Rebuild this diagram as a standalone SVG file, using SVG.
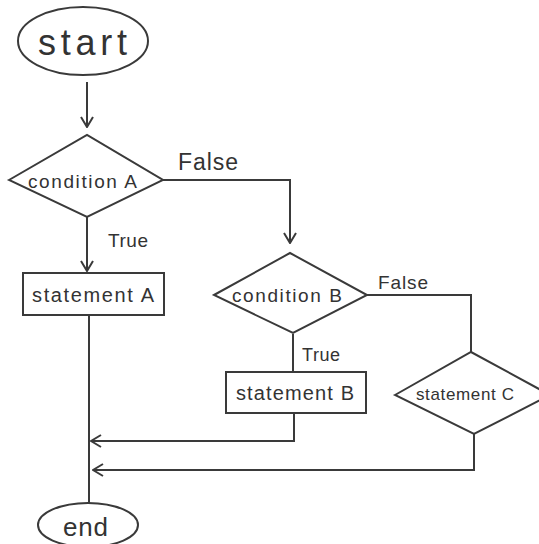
<svg xmlns="http://www.w3.org/2000/svg" width="539" height="544" viewBox="0 0 539 544">
<style>
.s{fill:none;stroke:#3a3a3a;stroke-width:2}
.n{fill:#fff;stroke:#3a3a3a;stroke-width:2}
text{font-family:"Liberation Sans","DejaVu Sans",sans-serif;fill:#333}
</style>
<defs>
<marker id="ah" viewBox="0 0 12 14" refX="11" refY="7" markerWidth="12" markerHeight="14" markerUnits="userSpaceOnUse" orient="auto">
<path d="M1,1 L11,7 L1,13" fill="none" stroke="#3a3a3a" stroke-width="2"/>
</marker>
</defs>
<rect width="539" height="544" fill="#fff"/>
<g id="connectors">
<path class="s" d="M87,82 V127" marker-end="url(#ah)"/>
<path class="s" d="M87,217 V271" marker-end="url(#ah)"/>
<path class="s" d="M163,180 H290 V243" marker-end="url(#ah)"/>
<path class="s" d="M293,334 V372"/>
<path class="s" d="M367,295 H471 V352"/>
<path class="s" d="M89,315 V503"/>
<path class="s" d="M294,413 V441 H91" marker-end="url(#ah)"/>
<path class="s" d="M474,434 V470 H93" marker-end="url(#ah)"/>
<text x="178" y="170" font-size="23" textLength="60" lengthAdjust="spacing">False</text>
<text x="108" y="247" font-size="19" textLength="40" lengthAdjust="spacing">True</text>
<text x="378" y="289" font-size="19" textLength="50" lengthAdjust="spacing">False</text>
<text x="302" y="361" font-size="18" textLength="38" lengthAdjust="spacing">True</text>
</g>
<g id="start">
<ellipse class="n" cx="83" cy="41" rx="65" ry="34"/>
<text x="38" y="55" font-size="36" textLength="89" lengthAdjust="spacing">start</text>
</g>
<g id="conditionA">
<polygon class="n" points="9,180 87,135 163,180 87,217"/>
<text x="28" y="188" font-size="19" textLength="109" lengthAdjust="spacing">condition A</text>
</g>
<g id="statementA">
<rect class="n" x="23" y="273" width="141" height="42"/>
<text x="32" y="302" font-size="20" textLength="122" lengthAdjust="spacing">statement A</text>
</g>
<g id="conditionB">
<polygon class="n" points="214,295 290,253 367,295 293,333"/>
<text x="232" y="302" font-size="19" textLength="110" lengthAdjust="spacing">condition B</text>
</g>
<g id="statementB">
<rect class="n" x="226" y="372" width="140" height="41"/>
<text x="236" y="400" font-size="20" textLength="118" lengthAdjust="spacing">statement B</text>
</g>
<g id="statementC">
<polygon class="n" points="395,395 471,352 550,395 474,434"/>
<text x="416" y="400" font-size="17" textLength="98" lengthAdjust="spacing">statement C</text>
</g>
<g id="end">
<ellipse class="n" cx="88" cy="525" rx="50" ry="22"/>
<text x="63" y="536" font-size="26" textLength="45" lengthAdjust="spacing">end</text>
</g>
</svg>
